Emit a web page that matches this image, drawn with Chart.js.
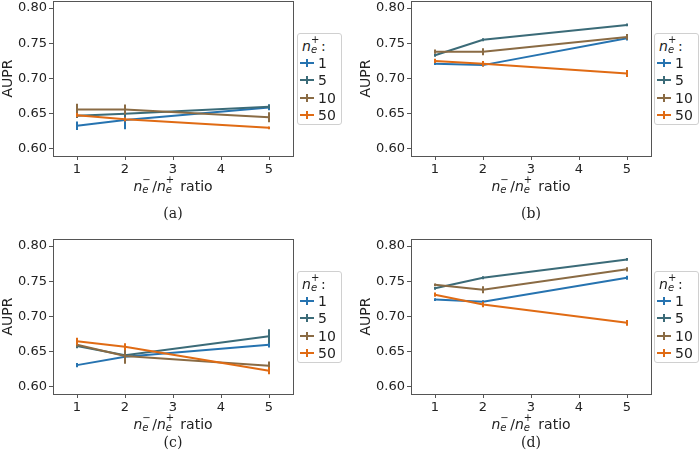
<!DOCTYPE html>
<html>
<head>
<meta charset="utf-8">
<script src="https://cdn.jsdelivr.net/npm/chart.js@4.4.0/dist/chart.umd.min.js"></script>
<style>
  body { margin:0; width:700px; height:467px; overflow:hidden; background:#fff; position:relative; font-family:"DejaVu Sans", sans-serif; color:#222; }
  canvas { position:absolute; }
  .xt { position:absolute; font-size:14px; line-height:16px; transform:translate(-50%,-50%); white-space:nowrap; }
  .cap { position:absolute; font-family:"DejaVu Serif", serif; font-size:14px; transform:translate(-50%,-50%); }
  .leg { position:absolute; width:43px; height:90px; border:1px solid #d0d0d0; border-radius:3px; background:#fff; font-size:14px; }
  .leg .ttl { position:absolute; left:4px; top:4px; white-space:nowrap; line-height:16px; }
  .leg .row { position:absolute; left:2px; height:16px; line-height:16px; white-space:nowrap; }
  .leg .smp { position:absolute; left:0; top:7px; width:14px; height:2px; }
  .leg .smp i { position:absolute; left:6px; top:-3px; width:2px; height:8px; background:inherit; }
  .leg .lab { position:absolute; left:18px; top:0; }
  .m { font-style:italic; }
  .ss { display:inline-block; position:relative; width:8px; height:10px; font-size:10px; margin-right:2px; }
  .ss .up { position:absolute; left:0; top:-6px; line-height:10px; }
  .ss .dn { position:absolute; left:0; top:4px; line-height:10px; font-style:italic; }
</style>
</head>
<body>
<canvas id="pa" width="300" height="200" style="left:0;top:0"></canvas>
<canvas id="pb" width="300" height="200" style="left:358px;top:0"></canvas>
<canvas id="pc" width="300" height="200" style="left:0;top:238px"></canvas>
<canvas id="pd" width="300" height="200" style="left:358px;top:238px"></canvas>
<script>
// x positions (negative / positive ratio) and tick labels
const ratios = [1, 2, 5];
const xTicks = [1, 2, 3, 4, 5];
const yTicks = [0.60, 0.65, 0.70, 0.75, 0.80];
const seriesLabels = ['1', '5', '10', '50'];
const colors = ['#2673b0', '#3b6b78', '#8a6b44', '#e06b14'];

// (a)
const a1 = [0.633, 0.641, 0.659], a1Err = [0.006, 0.013, 0.004];
const a5 = [0.647, 0.650, 0.660], a5Err = [0.003, 0.004, 0.003];
const a10 = [0.656, 0.656, 0.645], a10Err = [0.008, 0.007, 0.007];
const a50 = [0.648, 0.642, 0.630], a50Err = [0.003, 0.003, 0.002];
// (b)
const b1 = [0.721, 0.719, 0.757], b1Err = [0.002, 0.002, 0.003];
const b5 = [0.733, 0.755, 0.776], b5Err = [0.002, 0.002, 0.002];
const b10 = [0.738, 0.738, 0.759], b10Err = [0.003, 0.005, 0.004];
const b50 = [0.725, 0.721, 0.707], b50Err = [0.003, 0.004, 0.005];
// (c)
const c1 = [0.631, 0.643, 0.660], c1Err = [0.003, 0.003, 0.004];
const c5 = [0.658, 0.645, 0.672], c5Err = [0.003, 0.004, 0.010];
const c10 = [0.660, 0.644, 0.630], c10Err = [0.003, 0.011, 0.006];
const c50 = [0.665, 0.657, 0.623], c50Err = [0.005, 0.005, 0.005];
// (d)
const d1 = [0.724, 0.721, 0.755], d1Err = [0.002, 0.002, 0.003];
const d5 = [0.740, 0.755, 0.781], d5Err = [0.002, 0.002, 0.002];
const d10 = [0.745, 0.738, 0.767], d10Err = [0.002, 0.005, 0.003];
const d50 = [0.731, 0.717, 0.691], d50Err = [0.003, 0.004, 0.004];

// frame + vertical error bars
const errPlugin = {
  id: 'errbars',
  afterDatasetDraw(chart, args) {
    const ds = chart.data.datasets[args.index];
    const xs = chart.scales.x, ys = chart.scales.y, ctx = chart.ctx;
    ctx.save();
    ctx.strokeStyle = ds.borderColor;
    ctx.lineWidth = 2;
    ds.data.forEach((p, k) => {
      const x = xs.getPixelForValue(p.x);
      ctx.beginPath();
      ctx.moveTo(x, ys.getPixelForValue(p.y - ds.errs[k]));
      ctx.lineTo(x, ys.getPixelForValue(p.y + ds.errs[k]));
      ctx.stroke();
    });
    ctx.restore();
  },
  afterDraw(chart) {
    const a = chart.chartArea, ctx = chart.ctx;
    ctx.save();
    ctx.strokeStyle = '#555';
    ctx.lineWidth = 1;
    ctx.strokeRect(Math.round(a.left) + 0.5, Math.round(a.top) + 0.5, Math.round(a.right - a.left), Math.round(a.bottom - a.top));
    ctx.restore();
  }
};

function makePanel(id, vals, errs) {
  new Chart(document.getElementById(id), {
    type: 'line',
    data: {
      datasets: vals.map((v, i) => ({
        label: seriesLabels[i],
        data: ratios.map((r, k) => ({ x: r, y: v[k] })),
        errs: errs[i],
        borderColor: colors[i],
        backgroundColor: colors[i],
        borderWidth: 2,
        pointRadius: 0,
        tension: 0,
        order: 3 - i
      }))
    },
    options: {
      responsive: false,
      animation: false,
      devicePixelRatio: 1,
      layout: { padding: { top: 1, right: 7, left: 0, bottom: 0 } },
      plugins: { legend: { display: false }, tooltip: { enabled: false } },
      scales: {
        x: {
          type: 'linear', min: 0.5, max: 5.5,
          afterBuildTicks: s => { s.ticks = xTicks.map(v => ({ value: v })); },
          afterFit: s => { s.height = 44; s.paddingLeft = 0; s.paddingRight = 0; },
          grid: { drawOnChartArea: false, tickLength: 4, color: '#555' },
          border: { color: '#555' },
          ticks: { color: '#222', padding: 2, font: { size: 13, family: 'DejaVu Sans' } }
        },
        y: {
          min: 0.59, max: 0.81,
          afterBuildTicks: s => { s.ticks = yTicks.map(v => ({ value: v })); },
          afterFit: s => { s.width = 53; s.paddingTop = 0; s.paddingBottom = 0; },
          grid: { drawOnChartArea: false, tickLength: 4, color: '#555' },
          border: { color: '#555' },
          ticks: { color: '#222', padding: 2, font: { size: 13, family: 'DejaVu Sans' }, callback: v => v.toFixed(2) },
          title: { display: true, text: 'AUPR', color: '#222', padding: 0, font: { size: 14, family: 'DejaVu Sans' } }
        }
      }
    },
    plugins: [errPlugin]
  });
}

makePanel('pa', [a1, a5, a10, a50], [a1Err, a5Err, a10Err, a50Err]);
makePanel('pb', [b1, b5, b10, b50], [b1Err, b5Err, b10Err, b50Err]);
makePanel('pc', [c1, c5, c10, c50], [c1Err, c5Err, c10Err, c50Err]);
makePanel('pd', [d1, d5, d10, d50], [d1Err, d5Err, d10Err, d50Err]);

// text overlays: axis title, caption, legend
const panels = [
  { dx: 0, dy: 0, cap: '(a)', capY: 213 },
  { dx: 358, dy: 0, cap: '(b)', capY: 213 },
  { dx: 0, dy: 238, cap: '(c)', capY: 442 },
  { dx: 358, dy: 238, cap: '(d)', capY: 442 }
];
const nMinus = '<span class="m">n</span><span class="ss"><span class="up">−</span><span class="dn">e</span></span>';
const nPlus = '<span class="m">n</span><span class="ss"><span class="up">+</span><span class="dn">e</span></span>';
panels.forEach(p => {
  const cx = 173 + p.dx;
  const xt = document.createElement('div');
  xt.className = 'xt';
  xt.style.left = cx + 'px';
  xt.style.top = (186 + p.dy) + 'px';
  xt.innerHTML = nMinus + '/' + nPlus + ' ratio';
  document.body.appendChild(xt);

  const cap = document.createElement('div');
  cap.className = 'cap';
  cap.style.left = cx + 'px';
  cap.style.top = p.capY + 'px';
  cap.textContent = p.cap;
  document.body.appendChild(cap);

  const leg = document.createElement('div');
  leg.className = 'leg';
  leg.style.left = (297 + (p.dx ? 357 : 0)) + 'px';
  leg.style.top = (33 + p.dy) + 'px';
  let html = '<div class="ttl">' + nPlus + ':</div>';
  seriesLabels.forEach((l, i) => {
    html += '<div class="row" style="top:' + (21 + i * 17.3) + 'px">' +
      '<span class="smp" style="background:' + colors[i] + '"><i></i></span>' +
      '<span class="lab">' + l + '</span></div>';
  });
  leg.innerHTML = html;
  document.body.appendChild(leg);
});
</script>
</body>
</html>
